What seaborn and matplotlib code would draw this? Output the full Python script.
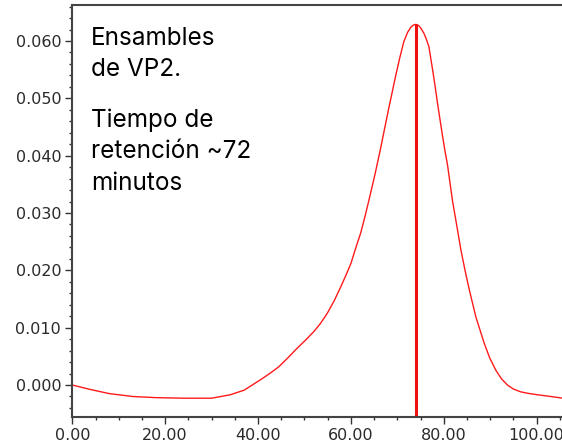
import matplotlib
matplotlib.use("Agg")
import matplotlib.pyplot as plt
import seaborn as sns
import pandas as pd
from matplotlib.ticker import MultipleLocator, FormatStrFormatter

# ---- data ----
time_min = [0, 4, 8, 13, 18, 24, 30, 34, 37, 40.5, 42.5, 44.5, 46.5, 48.4, 50.2,
            52, 53.5, 54.9, 56.4, 57.8, 58.9, 60, 61, 62.1, 63, 63.9, 65.2, 66.4,
            67.85, 69.6, 70.5, 71.4, 72.2, 72.9, 73.5, 74, 74.6, 75.1, 75.75,
            76.2, 76.8, 77.55, 78.1, 78.6, 79.7, 80.2, 80.8, 81.9, 82.8, 83.7,
            84.6, 85.5, 86.9, 88.7, 89.9, 91.2, 92.4, 93.7, 95, 96.6, 98.5,
            100.2, 103, 105.7]
absorbance = [0.0, -0.0008, -0.0015, -0.0020, -0.0022, -0.0023, -0.0023, -0.0017,
              -0.0009, 0.0009, 0.0020, 0.0032, 0.0048, 0.0064, 0.0078, 0.0093,
              0.0108, 0.0125, 0.0147, 0.0171, 0.0191, 0.0212, 0.0238, 0.0265,
              0.0293, 0.0323, 0.0368, 0.0413, 0.0471, 0.0538, 0.0570, 0.0599,
              0.0615, 0.0624, 0.0628, 0.0629, 0.0627, 0.0622, 0.0613, 0.0604,
              0.0590, 0.0552, 0.0523, 0.0494, 0.0436, 0.0411, 0.0384, 0.0320,
              0.0278, 0.0235, 0.0199, 0.0166, 0.0119, 0.0073, 0.0047, 0.0026,
              0.0011, 0.0000, -0.0007, -0.0012, -0.0015, -0.0017, -0.0020,
              -0.0023]
peak_time = [74.0]
peak_value = [0.0629]
x_ticks = [0, 20, 40, 60, 80, 100]
y_ticks = [0.000, 0.010, 0.020, 0.030, 0.040, 0.050, 0.060]
note_lines_1 = ["Ensambles", "de VP2."]
note_lines_2 = ["Tiempo de", "retención ~72", "minutos"]

df = pd.DataFrame({"t": time_min, "a": absorbance})

sns.set_theme(style="ticks")
plt.rcParams["font.family"] = ["DejaVu Sans"]

W, H = 562, 448
fig = plt.figure(figsize=(W / 100, H / 100), dpi=100)
fig.patch.set_facecolor("white")
ax = fig.add_axes([72.3 / W, 1 - 417.3 / H, (W - 72.3) / W + 0.002, (417.3 - 5.3) / H])
ax.set_facecolor("white")

ylo, yhi = -0.00563, 0.06623
sns.lineplot(data=df, x="t", y="a", ax=ax, color="#ff1a1a", linewidth=1.0,
             sort=False, estimator=None)
ax.vlines(peak_time, ylo, peak_value, color="#ee1111", linewidth=2.2)

ax.set_xlim(0, 105.7)
ax.set_ylim(ylo, yhi)
ax.set_xlabel("")
ax.set_ylabel("")

ax.set_xticks(x_ticks)
ax.set_yticks(y_ticks)
ax.xaxis.set_major_formatter(FormatStrFormatter("%.2f"))
ax.yaxis.set_major_formatter(FormatStrFormatter("%.3f"))
ax.xaxis.set_minor_locator(MultipleLocator(5))
ax.yaxis.set_minor_locator(MultipleLocator(0.002))

for s in ["left", "bottom", "top"]:
    ax.spines[s].set_color("#444444")
    ax.spines[s].set_linewidth(1.5)
ax.spines["right"].set_visible(False)

ax.tick_params(axis="both", which="major", direction="out", length=5, width=1.0,
               color="#333333", labelsize=11.5, labelcolor="#2a2a2a", pad=3)
ax.tick_params(axis="both", which="minor", direction="out", length=2.5, width=1.0,
               color="#333333")
ax.tick_params(top=False, right=False, which="both")

# annotation text (placed by pixel baselines)
font_note = dict(family=["Inter", "DejaVu Sans"], fontsize=17.5, color="black",
                 va="baseline", ha="left")
for line, py in zip(note_lines_1, [45, 75.5]):
    fig.text(91 / W, 1 - py / H, line, **font_note)
for line, py in zip(note_lines_2, [127, 158.5, 190]):
    fig.text(91 / W, 1 - py / H, line, **font_note)

fig.savefig("out.png", dpi=100, facecolor="white")
